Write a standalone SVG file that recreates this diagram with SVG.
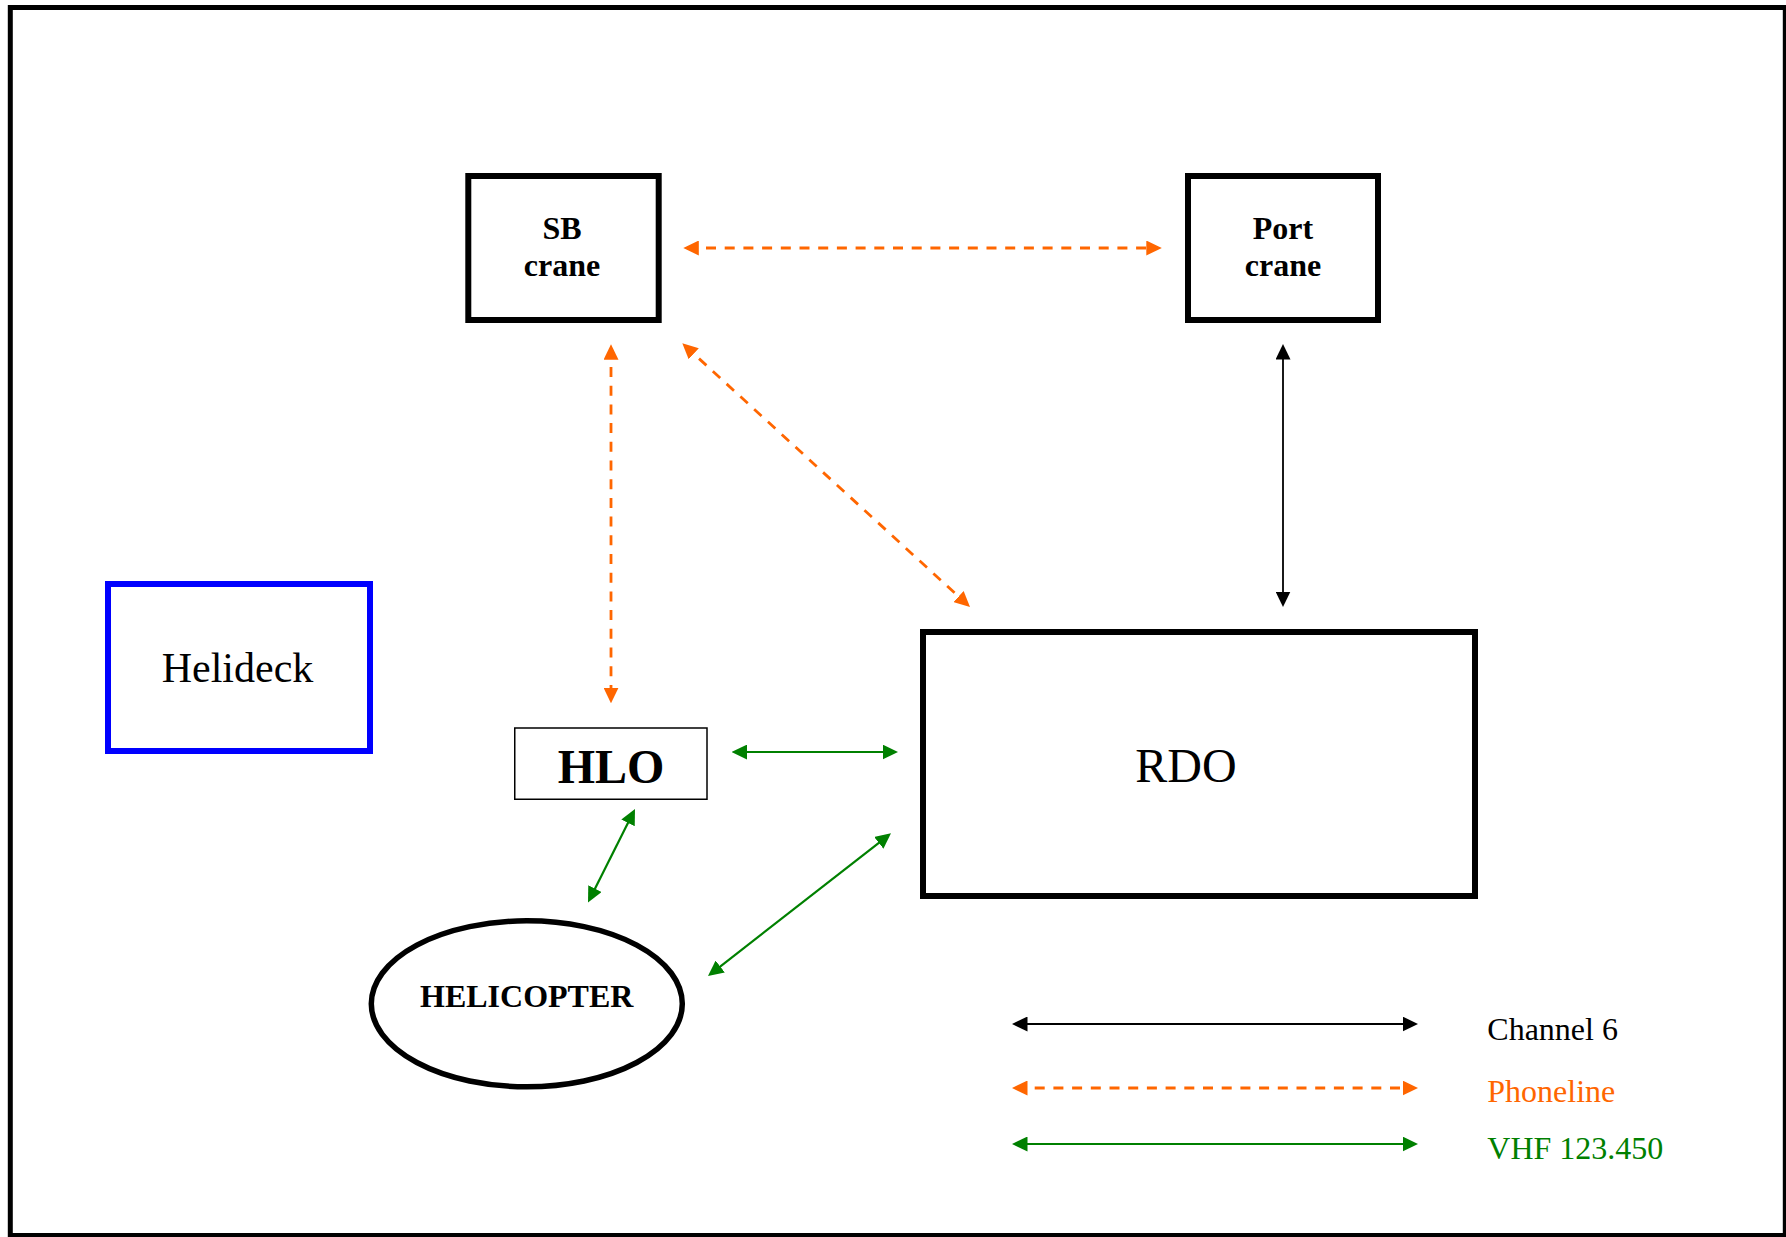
<svg xmlns="http://www.w3.org/2000/svg" width="1786" height="1237" viewBox="0 0 1786 1237">
<style>
text{font-family:"Liberation Serif","Times New Roman",serif;}
.box{fill:#fff;stroke:#000;stroke-width:6;}
.lbl{font-weight:bold;font-size:32px;text-anchor:middle;fill:#000;}
.blk{stroke:#000;stroke-width:1.8;fill:none;marker-start:url(#aB);marker-end:url(#aB);}
.org{stroke:#FF6600;stroke-width:2.8;fill:none;stroke-dasharray:10 8.7;marker-start:url(#aO);marker-end:url(#aO);}
.grn{stroke:#008000;stroke-width:2.2;fill:none;marker-start:url(#aG);marker-end:url(#aG);}
.leg{font-size:32px;}
</style>
<defs>
<marker id="aB" viewBox="0 0 15.5 15" refX="11.5" refY="7.5" markerWidth="15.5" markerHeight="15" markerUnits="userSpaceOnUse" orient="auto-start-reverse"><path d="M0,0 L15.5,7.5 L0,15 Z" fill="#000"/></marker>
<marker id="aO" viewBox="0 0 15.5 15" refX="11.5" refY="7.5" markerWidth="15.5" markerHeight="15" markerUnits="userSpaceOnUse" orient="auto-start-reverse"><path d="M0,0 L15.5,7.5 L0,15 Z" fill="#FF6600"/></marker>
<marker id="aG" viewBox="0 0 15.5 15" refX="11.5" refY="7.5" markerWidth="15.5" markerHeight="15" markerUnits="userSpaceOnUse" orient="auto-start-reverse"><path d="M0,0 L15.5,7.5 L0,15 Z" fill="#008000"/></marker>
</defs>
<rect x="0" y="0" width="1786" height="1237" fill="#fff"/>
<rect id="frame" x="10.3" y="7.5" width="1775" height="1228" fill="none" stroke="#000" stroke-width="5"/>

<g id="sb-crane">
<rect class="box" x="468.3" y="176" width="190.4" height="144"/>
<text class="lbl" x="562" y="239">SB</text>
<text class="lbl" x="562" y="276">crane</text>
</g>
<g id="port-crane">
<rect class="box" x="1188" y="176" width="190" height="144"/>
<text class="lbl" x="1283" y="239">Port</text>
<text class="lbl" x="1283" y="276">crane</text>
</g>
<g id="helideck">
<rect x="108" y="584" width="262" height="167" fill="#fff" stroke="#0000FF" stroke-width="6"/>
<text x="237.5" y="682" font-size="42" text-anchor="middle">Helideck</text>
</g>
<g id="hlo">
<rect x="514.75" y="728" width="192.25" height="71.25" fill="#fff" stroke="#000" stroke-width="1.5"/>
<text x="611" y="782.5" font-size="48" font-weight="bold" text-anchor="middle">HLO</text>
</g>
<g id="rdo">
<rect class="box" x="923" y="632" width="552" height="264"/>
<text x="1186" y="782" font-size="48" text-anchor="middle">RDO</text>
</g>
<g id="helicopter">
<ellipse cx="526.8" cy="1003.8" rx="155.5" ry="83" fill="#fff" stroke="#000" stroke-width="5.5"/>
<text class="lbl" x="526.7" y="1007.3">HELICOPTER</text>
</g>

<g id="connectors">
<line class="org" x1="687.3" y1="248" x2="1157.8" y2="248"/>
<line class="org" x1="611" y1="348.3" x2="611" y2="699.3"/>
<line class="org" x1="685.25" y1="346" x2="967.05" y2="604.3"/>
<line class="blk" x1="1283" y1="348" x2="1283" y2="603"/>
<line class="grn" x1="735.7" y1="752" x2="894" y2="752"/>
<line class="grn" x1="633.2" y1="812.6" x2="589.8" y2="898.9"/>
<line class="grn" x1="887.85" y1="835.76" x2="711.15" y2="973.54"/>
</g>

<g id="legend">
<line class="blk" x1="1016" y1="1024" x2="1414" y2="1024"/>
<line class="org" x1="1016" y1="1088" x2="1414" y2="1088"/>
<line class="grn" x1="1016" y1="1144" x2="1414" y2="1144"/>
<text class="leg" x="1487.3" y="1040" fill="#000">Channel 6</text>
<text class="leg" x="1487.3" y="1102.3" fill="#FF6600">Phoneline</text>
<text class="leg" x="1487.3" y="1159" fill="#008000">VHF 123.450</text>
</g>
</svg>
